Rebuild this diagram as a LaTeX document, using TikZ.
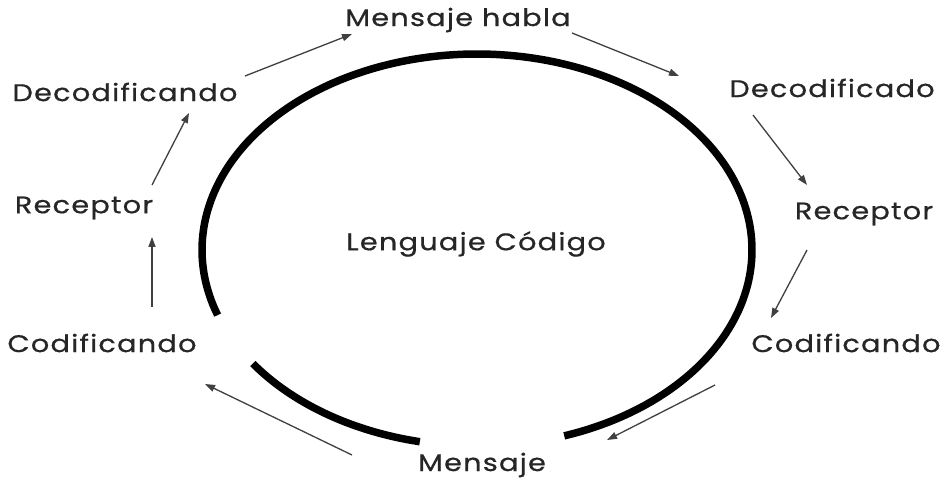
\documentclass[tikz,border=0pt]{standalone}
\usepackage{fontspec}
\setmainfont{Poppins}[FakeStretch=1.2,LetterSpace=5,FakeBold=0.6]
\usetikzlibrary{arrows.meta}
\definecolor{txt}{HTML}{262626}
\definecolor{arr}{HTML}{404040}
\begin{document}
\begin{tikzpicture}[x=1pt,y=-1pt,
  lbl/.style={text=txt,font=\fontsize{24}{28}\selectfont,inner sep=0pt,anchor=center},
  flow/.style={draw=arr,line width=1.3pt,-{Triangle[length=10pt,width=7pt]}},
  ring/.style={line width=7.5pt,line cap=butt}]
\useasboundingbox[fill=white] (0,0) rectangle (945,478);
% ring pieces
\draw[ring] plot[smooth,samples=120,domain=160.6:431.5] ({477+275*cos(\x)},{250+196*sin(\x)});
\draw[ring] plot[smooth,samples=40,domain=102:144.6] ({477+275*cos(\x)},{250+196*sin(\x)});
% labels
\node[lbl] (mh) at (458,20) {Mensaje habla};
\node[lbl] (decl) at (125,92) {Decodificando};
\node[lbl] (decr) at (832,88) {Decodificado};
\node[lbl] (recl) at (84,208) {Receptor};
\node[lbl] (recr) at (864,214) {Receptor};
\node[lbl] (len) at (476,244) {Lenguaje Código};
\node[lbl] (codl) at (102,343) {Codificando};
\node[lbl] (codr) at (846,343) {Codificando};
\node[lbl] (men) at (482,465) {Mensaje};
% arrow end points
\coordinate (a1s) at (245,76);  \coordinate (a1e) at (352,34);
\coordinate (a2s) at (572,33);  \coordinate (a2e) at (679,76);
\coordinate (a3s) at (753,115); \coordinate (a3e) at (807,185);
\coordinate (a4s) at (807,250); \coordinate (a4e) at (771,318);
\coordinate (a5s) at (715,385); \coordinate (a5e) at (607,440);
\coordinate (a6s) at (352,455); \coordinate (a6e) at (205,384);
\coordinate (a7s) at (152,307); \coordinate (a7e) at (152,237);
\coordinate (a8s) at (152,185); \coordinate (a8e) at (189,113);
\draw[flow] (a1s) -- (a1e);
\draw[flow] (a2s) -- (a2e);
\draw[flow] (a3s) -- (a3e);
\draw[flow] (a4s) -- (a4e);
\draw[flow] (a5s) -- (a5e);
\draw[flow] (a6s) -- (a6e);
\draw[flow] (a7s) -- (a7e);
\draw[flow] (a8s) -- (a8e);
\end{tikzpicture}
\end{document}
